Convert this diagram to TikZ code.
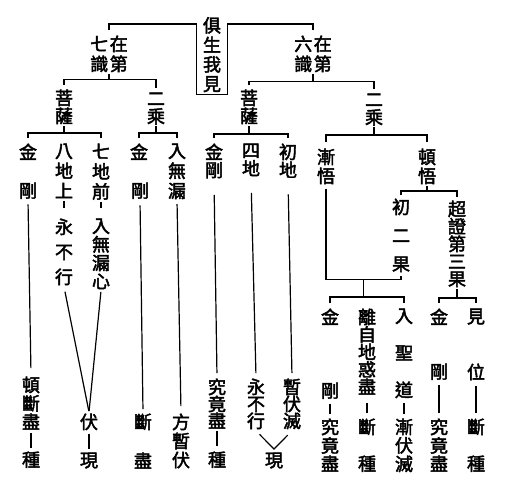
\documentclass[tikz,border=0pt]{standalone}
\usepackage{fontspec}
\newfontfamily\cjk{Noto Sans CJK TC}[RawFeature={embolden=2.5}]
\usetikzlibrary{calc}
\lineskiplimit=-20pt

\tikzset{
  zi/.style={anchor=north, inner sep=1pt, align=center,
    font=\cjk\fontsize{18}{#1}\selectfont},
  zi/.default=18,
  stub/.style={shorten <=#1, shorten >=#1},
  stub/.default=4pt,
}

\begin{document}
\begin{tikzpicture}[x=1pt, y=-1pt, line width=1.2pt]
\useasboundingbox (0,0) rectangle (510,485);

% top
\path
(212,15) node[zi=19.5, inner xsep=6pt, inner ysep=1.5pt] (jsw) {俱\\生\\我\\見}
(109,34) node[zi=20] (qi) {七\hspace{1.5pt}在\\識\hspace{1.5pt}第}
(313,34) node[zi=20] (liu) {六\hspace{1.5pt}在\\識\hspace{1.5pt}第};

\draw ([yshift=4pt]qi.north) |- ([yshift=-9pt]jsw.north west) -- (jsw.south west)
  -- (jsw.south east) -- ([yshift=-9pt]jsw.north east) -| ([yshift=4pt]liu.north);

\path
(64,88) node[zi] (lps) {菩\\薩}
(156,91) node[zi] (lec) {二\\乘}
(249,88) node[zi] (rps) {菩\\薩}
(374,92) node[zi] (rec) {二\\乘};

\draw (qi.south) -- ++(0,6);
\draw ([yshift=3pt]lps.north) |- ([yshift=-6pt]qi.south) -| ([yshift=3pt]lec.north);
\draw (liu.south) -- ++(0,8);
\draw ([yshift=3pt]rps.north) |- ([yshift=-8pt]liu.south) -| ([yshift=3pt]rec.north);

% left side
\path
(28,142) node[zi] (c1a) {金}
(28,181) node[zi] (c1b) {剛}
(64,142) node[zi=20] (c2a) {八\\地\\上}
(64,217) node[zi=25] (c2b) {永\\不\\行}
(101,142) node[zi=20] (c3a) {七\\地\\前}
(101,217) node[zi=18.5] (c3b) {入\\無\\漏\\心}
(139,142) node[zi] (d1a) {金}
(140,181) node[zi] (d1b) {剛}
(177,142) node[zi=20] (d2a) {入\\無\\漏}
(31,375) node[zi=18.5] (c1c) {頓\\斷\\盡}
(31,450) node[zi] (c1d) {種}
(89,412) node[zi] (fu) {伏}
(89,451) node[zi] (xian) {現}
(143,412) node[zi] (d1c) {斷}
(143,451) node[zi] (d1d) {盡}
(181,412) node[zi=19] (d2b) {方\\暫\\伏};

\coordinate (lb) at ([yshift=9pt]c2a.north);
\draw (lps.south) -- (lb);
\draw ([yshift=4pt]c1a.north) |- (c3a.north |- lb) -- ([yshift=4pt]c3a.north);
\draw (lec.south) -- (lec.south |- lb);
\draw ([yshift=4pt]d1a.north) |- (d2a.north |- lb) -- ([yshift=4pt]d2a.north);

\draw[shorten <=4pt, shorten >=7pt] (c1b.south) -- (c1c.north);
\draw[stub=2pt] (c1c.south) -- (c1d.north);
\draw[shorten <=1pt, shorten >=9pt] (c2a.south) -- (c2b.north);
\draw[shorten <=1pt, shorten >=9pt] (c3a.south) -- (c3b.north);
\draw[shorten <=5pt, shorten >=1pt] (c2b.south) -- (fu.north);
\draw[shorten <=1pt, shorten >=1pt] (c3b.south) -- (fu.north);
\draw[stub=2pt] (fu.south) -- (xian.north);
\draw[shorten <=5pt, shorten >=3pt] (d1b.south) -- (d1c.north);
\draw[shorten <=3.5pt, shorten >=6pt] (d2a.south) -- (d2b.north);

% middle
\path
(214,142) node[zi] (e1a) {金\\剛}
(251,142) node[zi] (e2a) {四\\地}
(288,142) node[zi] (e3a) {初\\地}
(217,377) node[zi=17] (e1b) {究\\竟\\盡}
(217,450) node[zi] (e1c) {種}
(256,377) node[zi=17] (e2b) {永\\不\\行}
(292,377) node[zi=17] (e3b) {暫\\伏\\滅}
(274,451) node[zi] (e4) {現};

\coordinate (mb) at ([yshift=8pt]e2a.north);
\draw (rps.south) -- (rps.south |- mb);
\draw ([yshift=4pt]e1a.north) |- (e3a.north |- mb) -- ([yshift=4pt]e3a.north);

\draw[shorten <=15pt, shorten >=4pt] (e1a.south) -- (e1b.north);
\draw[shorten <=15pt, shorten >=4pt] (e2a.south) -- (e2b.north);
\draw[shorten <=15pt, shorten >=4pt] (e3a.south) -- (e3b.north);
\draw[shorten <=1pt, shorten >=4pt] (e1b.south) -- (e1c.north);
\draw[shorten <=5pt, shorten >=6pt] (e2b.south) -- ([yshift=2pt]e4.north) -- (e3b.south);

% right side
\path
(326,147) node[zi=19] (f1) {漸\\悟}
(427,147) node[zi=19] (f2) {頓\\悟}
(401,197) node[zi=28.5] (g1) {初\\二\\果}
(457,199) node[zi=17.5] (g2) {超\\證\\第\\三\\果}
(330,307) node[zi] (h1a) {金}
(330,381) node[zi] (h1b) {剛}
(330,417) node[zi=18.5] (h1c) {究\\竟\\盡}
(367,307) node[zi=17.5] (h2a) {離\\自\\地\\惑\\盡}
(367,417) node[zi] (h2b) {斷}
(367,454) node[zi] (h2c) {種}
(404,307) node[zi=37] (h3a) {入\\聖\\道}
(404,417) node[zi=18.5] (h3b) {漸\\伏\\滅}
(439,307) node[zi] (i1a) {金}
(439,362) node[zi] (i1b) {剛}
(439,417) node[zi=18.5] (i1c) {究\\竟\\盡}
(476,307) node[zi] (i2a) {見}
(476,362) node[zi] (i2b) {位}
(476,417) node[zi] (i2c) {斷}
(476,454) node[zi] (i2d) {種};

\coordinate (rb) at ([yshift=12pt]f1.north);
\draw (rec.south) -- (rec.south |- rb);
\draw ([yshift=5pt]f1.north) |- (f2.north |- rb) -- ([yshift=5pt]f2.north);

\coordinate (db) at ([yshift=6pt]g1.north);
\draw (f2.south) -- (f2.south |- db);
\draw ([yshift=2pt]g1.north) |- (g2.north |- db) -- ([yshift=2pt]g2.north);

\coordinate (jn) at ($([yshift=-6pt]g1.south)!0.5!([yshift=-6pt]g1.south -| f1.south)$);
\draw ([yshift=-3pt]f1.south) |- (jn) -| ([yshift=-2pt]g1.south);
\coordinate (hl) at ([yshift=10pt]h1a.north);
\draw (jn) -- (jn |- hl);
\draw ([yshift=4pt]h1a.north) |- (h3a.north |- hl) -- ([yshift=4pt]h3a.north);

\coordinate (il) at ([yshift=9pt]i1a.north);
\draw (g2.south) -- (g2.south |- il);
\draw ([yshift=4pt]i1a.north) |- (i2a.north |- il) -- ([yshift=4pt]i2a.north);

\draw[stub=3.5pt] (h1b.south) -- (h1c.north);
\draw[shorten <=6.5pt, shorten >=4pt] (h2a.south) -- (h2b.north);
\draw[stub=3.5pt] (h3a.south) -- (h3b.north);
\draw[stub=4pt] (i1b.south) -- (i1c.north);
\draw[stub=4pt] (i2b.south) -- (i2c.north);

\end{tikzpicture}
\end{document}
